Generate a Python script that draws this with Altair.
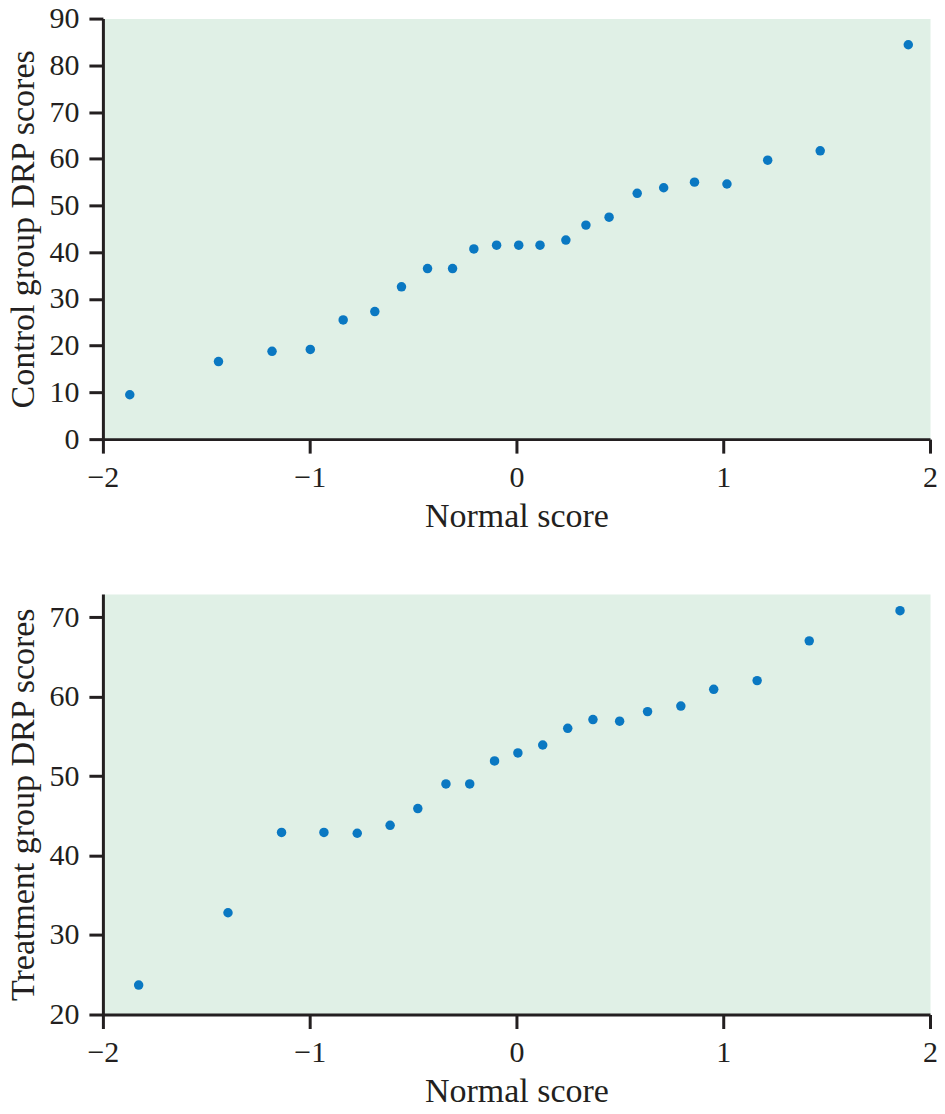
import altair as alt
import pandas as pd

# Control group (top panel): normal score vs DRP score
control_normal = [-1.870, -1.441, -1.182, -0.997, -0.838, -0.685, -0.556, -0.430,
                  -0.309, -0.206, -0.096, 0.011, 0.114, 0.239, 0.336, 0.448,
                  0.584, 0.712, 0.861, 1.018, 1.215, 1.469, 1.895]
control_drp = [9.5, 16.6, 18.8, 19.2, 25.5, 27.3, 32.6, 36.5,
               36.5, 40.7, 41.5, 41.5, 41.5, 42.6, 45.8, 47.5,
               52.6, 53.8, 55.0, 54.6, 59.7, 61.7, 84.4]

# Treatment group (bottom panel)
treatment_normal = [-1.827, -1.395, -1.136, -0.931, -0.770, -0.611, -0.477, -0.341,
                    -0.226, -0.106, 0.007, 0.127, 0.248, 0.370, 0.499, 0.634,
                    0.795, 0.954, 1.164, 1.416, 1.855]
treatment_drp = [23.7, 32.8, 42.9, 42.9, 42.8, 43.8, 45.9, 49.0,
                 49.0, 51.9, 52.9, 53.9, 56.0, 57.1, 56.9, 58.1,
                 58.8, 60.9, 62.0, 67.0, 70.8]

x_ticks = [-2, -1, 0, 1, 2]
control_y_ticks = [0, 10, 20, 30, 40, 50, 60, 70, 80, 90]
treatment_y_ticks = [20, 30, 40, 50, 60, 70]

INK = "#231f20"
FONT = "Liberation Serif"
DOT = "#0a78c2"


def panel(xs, ys, ytitle, ydomain, yticks):
    df = pd.DataFrame({"normal": xs, "score": ys})
    return (
        alt.Chart(df)
        .mark_circle(size=90, color=DOT, opacity=1)
        .encode(
            x=alt.X(
                "normal:Q",
                scale=alt.Scale(domain=[-2, 2], nice=False, zero=False),
                axis=alt.Axis(values=x_ticks, title="Normal score"),
            ),
            y=alt.Y(
                "score:Q",
                scale=alt.Scale(domain=ydomain, nice=False, zero=False),
                axis=alt.Axis(values=yticks, title=ytitle),
            ),
        )
        .properties(width=828, height=421)
    )


top = panel(control_normal, control_drp, "Control group DRP scores", [0, 90], control_y_ticks)
bottom = panel(treatment_normal, treatment_drp, "Treatment group DRP scores", [20, 72.9], treatment_y_ticks)

chart = (
    alt.vconcat(top, bottom, spacing=59)
    .properties(padding={"top": -6, "left": -2, "right": -1, "bottom": -5}, background="white")
    .configure_axis(
        grid=False,
        domainColor=INK,
        domainWidth=3,
        tickColor=INK,
        tickWidth=3,
        tickSize=14,
        labelFont=FONT,
        labelFontSize=30,
        labelColor=INK,
        titleFont=FONT,
        titleFontSize=34,
        titleFontWeight="normal",
        titleColor=INK,
        labelFlush=False,
    )
    .configure_axisX(labelPadding=9, titlePadding=7)
    .configure_axisY(labelPadding=10, titlePadding=8)
    .configure_view(fill="#e0f0e6", stroke="transparent")
)

chart.save("out.html", embed_options={"renderer": "svg", "actions": False})
